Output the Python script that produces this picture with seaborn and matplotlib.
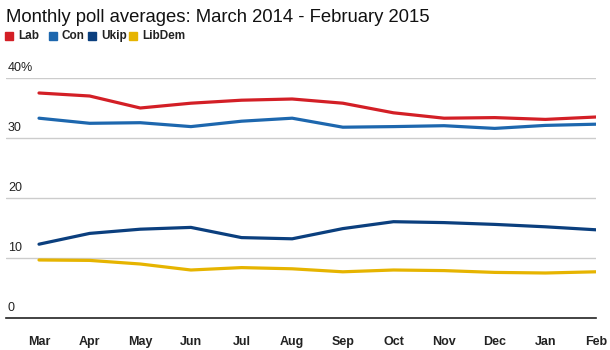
import matplotlib
matplotlib.use("Agg")
import matplotlib.pyplot as plt
import seaborn as sns
import pandas as pd
from matplotlib.patches import Rectangle

months = ["Mar", "Apr", "May", "Jun", "Jul", "Aug", "Sep", "Oct", "Nov", "Dec", "Jan", "Feb"]
lab = [37.5, 37.0, 35.0, 35.8, 36.3, 36.5, 35.8, 34.2, 33.3, 33.4, 33.1, 33.5]
con = [33.3, 32.45, 32.55, 31.9, 32.8, 33.3, 31.8, 31.9, 32.05, 31.6, 32.1, 32.3]
ukip = [12.3, 14.1, 14.8, 15.1, 13.4, 13.2, 14.9, 16.05, 15.9, 15.6, 15.2, 14.7]
libdem = [9.67, 9.6, 9.0, 8.0, 8.4, 8.2, 7.7, 8.0, 7.9, 7.6, 7.5, 7.7]
parties = ["Lab", "Con", "Ukip", "LibDem"]
colors = ["#d31f26", "#1d67ae", "#0b3f7e", "#e6b400"]
yticks = [0, 10, 20, 30, 40]
ylabels = ["0", "10", "20", "30", "40%"]

rows = []
for name, vals in zip(parties, [lab, con, ukip, libdem]):
    for i, v in enumerate(vals):
        rows.append({"idx": i, "value": v, "party": name})
df = pd.DataFrame(rows)

sns.set_theme(style="white")
plt.rcParams["font.family"] = ["Liberation Sans", "DejaVu Sans"]

fig = plt.figure(figsize=(6.1, 3.5), dpi=100)
W, H = 610, 350
ax = fig.add_axes([6 / W, (H - 318) / H, (596 - 6) / W, (318 - 78) / H])

sns.lineplot(data=df, x="idx", y="value", hue="party", palette=dict(zip(parties, colors)),
             hue_order=parties, linewidth=2.3, legend=False, ax=ax,
             solid_capstyle="round", solid_joinstyle="round")

step = (596 - 39) / 11
ax.set_xlim(-(39 - 6) / step, 11)
ax.set_ylim(0, 40)
for s in ["top", "right", "left"]:
    ax.spines[s].set_visible(False)
ax.spines["bottom"].set_color("#222222")
ax.spines["bottom"].set_linewidth(1.2)
for t in yticks[1:]:
    ax.axhline(t, color="#cccccc", linewidth=1, zorder=0)
ax.set_yticks([])
ax.set_xticks(range(len(months)))
ax.set_xticklabels(months, fontweight="bold", fontsize=9, color="#222222")
ax.tick_params(axis="x", length=0, pad=13)
ax.set_xlabel("")
ax.set_ylabel("")
for t, lbl in zip(yticks, ylabels):
    ax.text(2 / (596 - 6), t + 0.6, lbl, transform=ax.get_yaxis_transform(),
            fontsize=9, color="#222222", va="bottom", ha="left")

fig.text(6 / W, 1 - 17 / H, "Monthly poll averages: March 2014 - February 2015",
         fontsize=13.3, color="#111111", va="center", ha="left")
sq_x = [5, 49, 88, 129]
for x0, name, c in zip(sq_x, parties, colors):
    fig.patches.append(Rectangle((x0 / W, 1 - 40 / H), 8 / W, 8 / H,
                                 transform=fig.transFigure, color=c))
    fig.text((x0 + 13) / W, 1 - 36 / H, name, fontsize=8.5, fontweight="bold",
             color="#222222", va="center", ha="left")

fig.savefig("out.png", dpi=100)
